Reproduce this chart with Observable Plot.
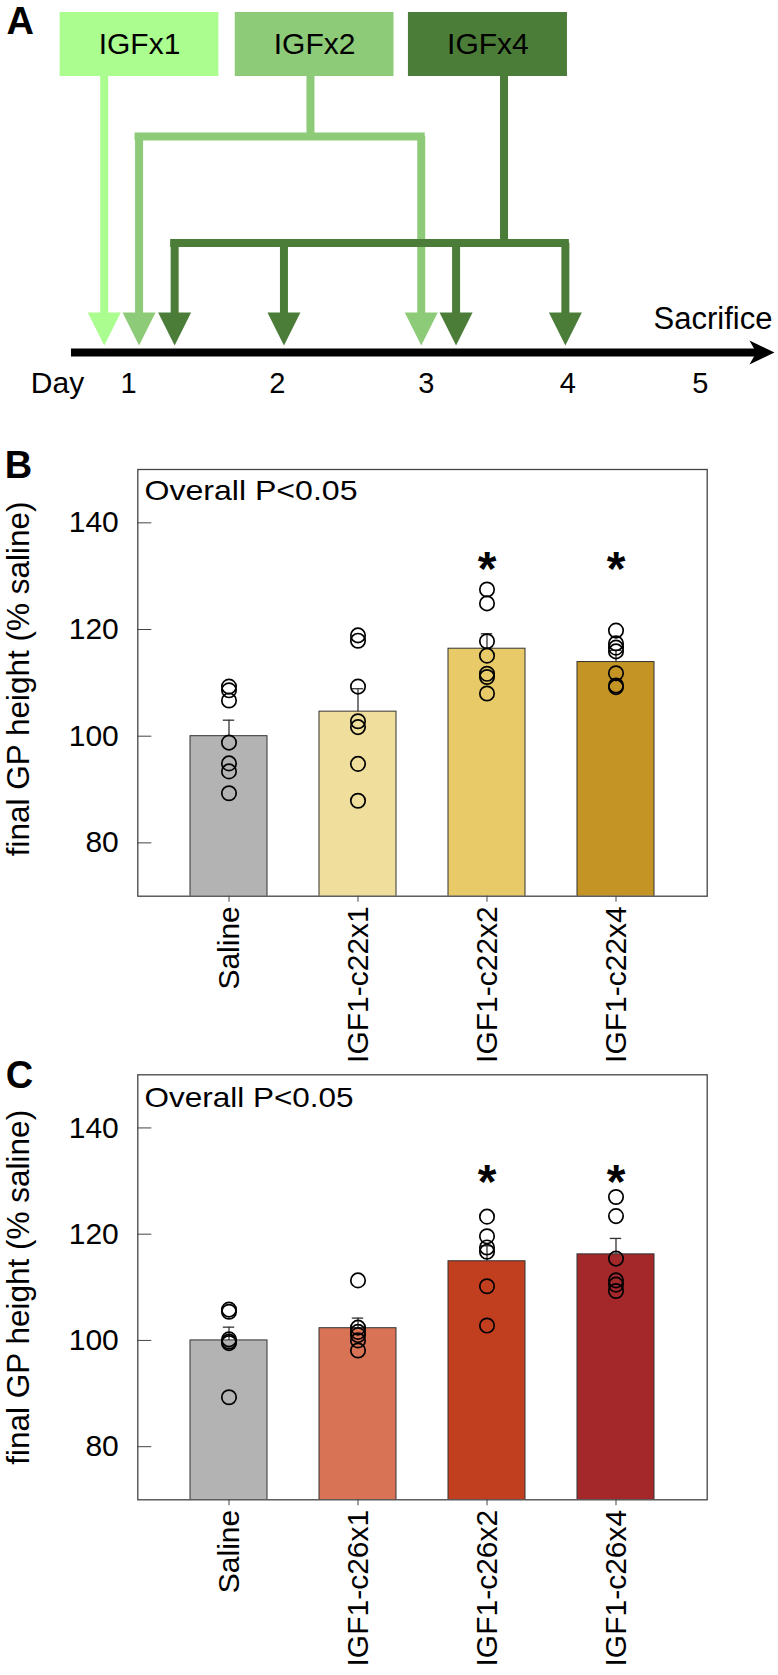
<!DOCTYPE html>
<html><head><meta charset="utf-8">
<script src="https://cdn.jsdelivr.net/npm/d3@7"></script>
<script src="https://cdn.jsdelivr.net/npm/@observablehq/plot@0.6"></script>
<style>
body{margin:0;background:#fff;}
#wrap{position:relative;width:778px;height:1675px;overflow:hidden;background:#fff;}
#wrap svg{position:absolute;left:0;}
</style></head><body><div id="wrap"></div>
<script>
// ---------- Panel A: dosing schedule (positions in days) ----------
const regimens = ["IGFx1", "IGFx2", "IGFx4"];
const regimenColors = ["#abfd8f", "#8dcb78", "#4b7c38"];
const boxStart = [0.541, 1.717, 2.880];
const boxEnd = [1.607, 2.783, 3.948];
const stemDay = [0.837, 2.222, 3.522];
const doseDays = [[0.837], [1.071, 2.966], [1.310, 2.044, 3.200, 3.934]];
const dayLabels = ["1", "2", "3", "4", "5"];
const dayLabelPos = [1, 2, 3, 3.95, 4.84];

// ---------- Panel B: IGF1-c22 ----------
const groupsB = ["Saline", "IGF1-c22x1", "IGF1-c22x2", "IGF1-c22x4"];
const meansB = [100, 104.6, 116.4, 113.9];
const upperB = [103.0, 108.9, 119.2, 116.1];
const colorsB = ["#b3b3b3", "#f0df9c", "#e8cb68", "#c49425"];
const pointsB = [
  [109.3, 108.6, 106.7, 98.8, 94.9, 93.4, 89.3],
  [118.9, 117.9, 109.3, 102.8, 101.7, 94.8, 87.9],
  [127.5, 124.9, 117.8, 115.1, 111.7, 111.1, 108.0],
  [119.8, 117.4, 116.6, 115.9, 111.8, 109.5, 109.2]
];
const signifB = [false, false, true, true];

// ---------- Panel C: IGF1-c26 ----------
const groupsC = ["Saline", "IGF1-c26x1", "IGF1-c26x2", "IGF1-c26x4"];
const meansC = [100, 102.3, 114.9, 116.2];
const upperC = [102.5, 104.2, 117.8, 119.2];
const colorsC = ["#b3b3b3", "#d97355", "#c13e1f", "#a4282a"];
const pointsC = [
  [105.8, 105.4, 100.2, 99.8, 99.5, 89.3],
  [111.3, 102.4, 101.6, 101.0, 100.0, 98.1],
  [123.3, 119.6, 117.5, 116.7, 110.2, 102.8],
  [127.0, 123.4, 115.4, 111.3, 110.5, 109.3]
];
const signifC = [false, false, true, true];

const yTicks = [80, 100, 120, 140];
const yLabel = "final GP height (% saline)";
const overallText = "Overall P<0.05";

const FONT = "'Liberation Sans', Arial, Helvetica, sans-serif";
const wrap = document.getElementById("wrap");

// custom symbols
const downHead = {draw(ctx, size) { const r = Math.sqrt(size / Math.PI); ctx.moveTo(-r, -r); ctx.lineTo(r, -r); ctx.lineTo(0, r); ctx.closePath(); }};
const rightHead = {draw(ctx, size) { const r = Math.sqrt(size / Math.PI); ctx.moveTo(r, 0); ctx.lineTo(-r, -r * 0.96); ctx.lineTo(-r * 0.45, 0); ctx.lineTo(-r, r * 0.96); ctx.closePath(); }};

// ---------- Panel A ----------
(function () {
  const L = {height: 405, boxTop: 12, boxBottom: 76, textBase: 53.5, branch: [null, 136, 242.5],
             arrowTop: 312, arrowMid: 328.5, axis: 352, dayBase: 392, sacBase: 328.3, w: 8,
             lineStart: 0.617, lineEnd: 5.224, headMid: 5.254, dayWord: 0.523, sacEnd: 5.325};
  const rows = regimens.map((name, i) => ({name, color: regimenColors[i], x1: boxStart[i], x2: boxEnd[i],
    mid: (boxStart[i] + boxEnd[i]) / 2, stem: stemDay[i], level: L.branch[i] ?? L.arrowTop,
    hasBranch: L.branch[i] != null,
    doses: doseDays[i].map(day => ({day, color: regimenColors[i]}))}));
  const regMarks = rows.map(r => [
    Plot.ruleX([r], {x: "stem", y1: L.boxBottom - 1, y2: r.level, stroke: r.color, strokeWidth: L.w}),
    r.hasBranch ? Plot.ruleY([r], {y: r.level, x1: d3.min(r.doses, d => d.day), x2: d3.max(r.doses, d => d.day), stroke: r.color, strokeWidth: L.w, strokeLinecap: "square"}) : null,
    Plot.ruleX(r.doses, {x: "day", y1: r.level, y2: L.arrowTop + 2, stroke: r.color, strokeWidth: L.w}),
    Plot.dot(r.doses, {x: "day", y: L.arrowMid, r: 16.5, symbol: downHead, fill: r.color, stroke: null})
  ]);
  const svg = Plot.plot({
    width: 778, height: L.height, margin: 0,
    style: {background: "transparent", overflow: "visible", fontFamily: FONT, color: "#000"},
    x: {domain: [0.1404, 5.3653], range: [0, 778], axis: null},
    y: {domain: [0, L.height], range: [0, L.height], axis: null},
    marks: [
      Plot.rect(rows, {x1: "x1", x2: "x2", y1: L.boxTop, y2: L.boxBottom, fill: "color"}),
      Plot.text(rows, {x: "mid", y: L.textBase, text: "name", fontSize: 30, lineAnchor: "bottom", fill: "#000"}),
      ...regMarks,
      Plot.ruleY([0], {y: L.axis, x1: L.lineStart, x2: L.lineEnd, stroke: "#000", strokeWidth: L.w}),
      Plot.dot([0], {x: L.headMid, y: L.axis, r: 12.5, symbol: rightHead, fill: "#000", stroke: null}),
      Plot.text(dayLabels.map((t, i) => ({t, x: dayLabelPos[i]})), {x: "x", y: L.dayBase, text: "t", fontSize: 29, lineAnchor: "bottom"}),
      Plot.text(["Day"], {x: L.dayWord, y: L.dayBase, fontSize: 30, lineAnchor: "bottom"}),
      Plot.text(["Sacrifice"], {x: L.sacEnd, y: L.sacBase, textAnchor: "end", fontSize: 31, lineAnchor: "bottom"}),
      Plot.text(["A"], {frameAnchor: "top-left", dx: 6, dy: 33, fontSize: 38, fontWeight: "bold", lineAnchor: "bottom", textAnchor: "start"})
    ]
  });
  svg.style.top = "0px";
  wrap.appendChild(svg);
})();

// ---------- Bar panels ----------
function barPanel(o) {
  const bars = o.groups.map((g, i) => ({group: g, mean: o.means[i], upper: o.upper[i], color: o.colors[i]}));
  const pts = o.groups.flatMap((g, i) => o.points[i].map(v => ({group: g, value: v})));
  const stars = o.groups.filter((g, i) => o.signif[i]).map(g => ({group: g}));
  const svg = Plot.plot({
    width: 778, height: o.height, marginTop: o.marginTop, marginBottom: o.marginBottom,
    marginLeft: 137.3, marginRight: 71.3,
    style: {background: "transparent", overflow: "visible", fontFamily: FONT, color: "#000"},
    x: {domain: o.groups, padding: 0.4, label: null},
    y: {domain: [70, 150], label: null},
    marks: [
      Plot.barY(bars, {x: "group", y: "mean", fill: "color", stroke: "#333", strokeWidth: 1, clip: true}),
      Plot.ruleX(bars, {x: "group", y1: "mean", y2: "upper", stroke: "#333", strokeWidth: 1.3}),
      Plot.tickY(bars, {x: "group", y: "upper", stroke: "#333", strokeWidth: 1.3, insetLeft: 32.8, insetRight: 32.8}),
      Plot.dot(pts, {x: "group", y: "value", r: 7.2, stroke: "#000", strokeWidth: 1.7, fill: "none"}),
      Plot.text(stars, {x: "group", y: o.starY, text: () => "*", fontSize: 48, fontWeight: "bold", lineAnchor: "bottom", dy: 26.5}),
      Plot.frame({stroke: "#444", strokeWidth: 1.3}),
      Plot.axisY({ticks: yTicks, tickSize: 14, dx: 14, tickPadding: 19, fontSize: 30, stroke: "#444", label: null}),
      Plot.axisX({tickSize: 6, tickPadding: 4, tickRotate: -90, fontSize: 30, stroke: "#444", label: null}),
      Plot.text([yLabel], {frameAnchor: "left", textAnchor: "middle", rotate: -90, lineAnchor: "bottom", dx: 28.5 - 137.3, dy: o.labelDy, fontSize: 31.5}),
      Plot.text([overallText], {frameAnchor: "top-left", textAnchor: "start", dx: 6.7, dy: o.overallDy, lineAnchor: "bottom", fontSize: 28}),
      Plot.text([o.letter], {frameAnchor: "top-left", textAnchor: "start", dx: o.letterDx, dy: o.letterDy, lineAnchor: "bottom", fontSize: 38, fontWeight: "bold"})
    ]
  });
  svg.style.top = o.top + "px";
  svg.querySelectorAll("text").forEach(t => {
    if (t.textContent === overallText) { t.setAttribute("textLength", o.overallLength); t.setAttribute("lengthAdjust", "spacingAndGlyphs"); }
  });
  wrap.appendChild(svg);
}

barPanel({groups: groupsB, means: meansB, upper: upperB, colors: colorsB, points: pointsB, signif: signifB,
  starY: 133.3, top: 420, height: 660, marginTop: 49, marginBottom: 184.3,
  labelDy: -4, overallDy: 30.3, overallLength: 213, letter: "B", letterDx: -133, letterDy: 8});
barPanel({groups: groupsC, means: meansC, upper: upperC, colors: colorsC, points: pointsC, signif: signifC,
  starY: 131.8, top: 1030, height: 645, marginTop: 44.3, marginBottom: 175.7,
  labelDy: 0, overallDy: 32.4, overallLength: 209, letter: "C", letterDx: -132, letterDy: 12.7});
</script></body></html>
